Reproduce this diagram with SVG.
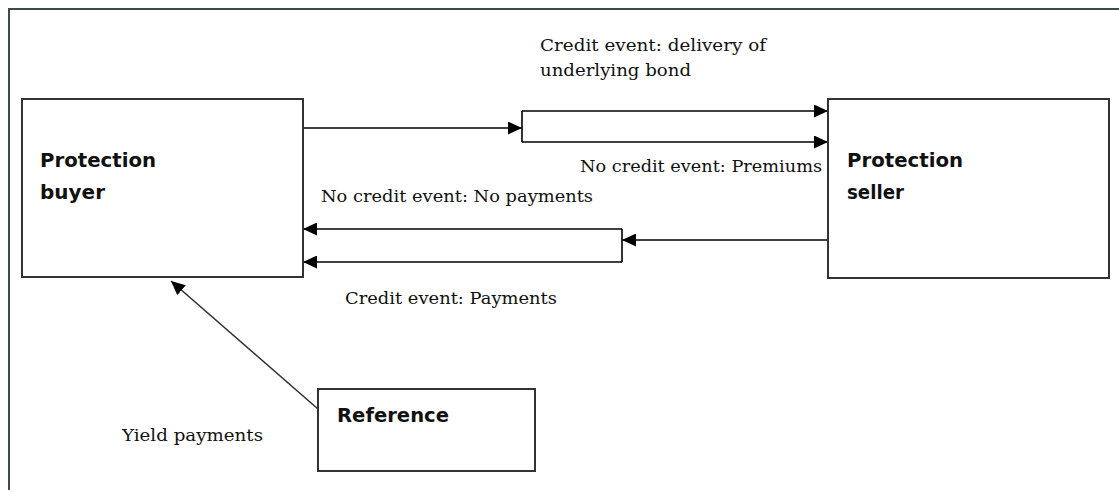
<svg xmlns="http://www.w3.org/2000/svg" width="1119" height="492" viewBox="0 0 1119 492">
  <style>
    .box { fill: #ffffff; stroke: #333333; stroke-width: 2; }
    .frame { fill: none; stroke: #3c4a4a; stroke-width: 2; }
    .link { fill: none; stroke: #000000; stroke-width: 1.6; }
    .diag { fill: none; stroke: #333333; stroke-width: 1.6; }
    .title { font-family: "DejaVu Sans", "Liberation Sans", sans-serif; font-weight: bold; font-size: 19px; fill: #111111; }
    .label { font-family: "DejaVu Serif", "Liberation Serif", serif; font-size: 17px; fill: #111111; }
  </style>
  <defs>
    <marker id="arrow" markerUnits="userSpaceOnUse" markerWidth="15" markerHeight="13" refX="14" refY="6.5" orient="auto">
      <path d="M0,0 L14,6.5 L0,13 Z" fill="#000000"/>
    </marker>
  </defs>

  <rect width="1119" height="492" fill="#ffffff"/>

  <!-- outer frame (top and left edges only) -->
  <path class="frame" d="M9,490 L9,9 L1119,9"/>

  <!-- connectors -->
  <g id="connectors">
    <!-- buyer to delivery/premium split -->
    <line class="link" x1="303" y1="128" x2="522" y2="128" marker-end="url(#arrow)"/>
    <path class="link" d="M522,111 L522,142"/>
    <line class="link" x1="522" y1="111" x2="828" y2="111" marker-end="url(#arrow)"/>
    <line class="link" x1="522" y1="142" x2="828" y2="142" marker-end="url(#arrow)"/>

    <!-- seller to payment split -->
    <line class="link" x1="828" y1="240" x2="622" y2="240" marker-end="url(#arrow)"/>
    <path class="link" d="M622,229 L622,262"/>
    <line class="link" x1="622" y1="229" x2="303" y2="229" marker-end="url(#arrow)"/>
    <line class="link" x1="622" y1="262" x2="303" y2="262" marker-end="url(#arrow)"/>

    <!-- reference to buyer -->
    <line class="diag" x1="318" y1="409" x2="171" y2="281" marker-end="url(#arrow)"/>
  </g>

  <!-- connector labels -->
  <g id="labels">
    <text class="label" x="540" y="51" textLength="226" lengthAdjust="spacingAndGlyphs">Credit event: delivery of</text>
    <text class="label" x="540" y="76" textLength="151" lengthAdjust="spacingAndGlyphs">underlying bond</text>
    <text class="label" x="580" y="172" textLength="242" lengthAdjust="spacingAndGlyphs">No credit event: Premiums</text>
    <text class="label" x="321" y="202" textLength="272" lengthAdjust="spacingAndGlyphs">No credit event: No payments</text>
    <text class="label" x="345" y="304" textLength="212" lengthAdjust="spacingAndGlyphs">Credit event: Payments</text>
    <text class="label" x="122" y="441" textLength="141" lengthAdjust="spacingAndGlyphs">Yield payments</text>
  </g>

  <g id="protection-buyer">
    <rect class="box" x="22" y="99" width="281" height="178"/>
    <text class="title" x="40" y="167" textLength="116" lengthAdjust="spacingAndGlyphs">Protection</text>
    <text class="title" x="40" y="199" textLength="65" lengthAdjust="spacingAndGlyphs">buyer</text>
  </g>

  <g id="protection-seller">
    <rect class="box" x="828" y="99" width="281" height="179"/>
    <text class="title" x="847" y="167" textLength="116" lengthAdjust="spacingAndGlyphs">Protection</text>
    <text class="title" x="847" y="199" textLength="57" lengthAdjust="spacingAndGlyphs">seller</text>
  </g>

  <g id="reference">
    <rect class="box" x="318" y="389" width="217" height="82"/>
    <text class="title" x="337" y="422" textLength="112" lengthAdjust="spacingAndGlyphs">Reference</text>
  </g>
</svg>
